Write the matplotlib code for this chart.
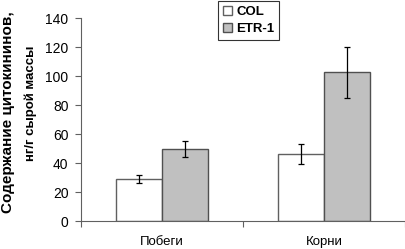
import matplotlib

matplotlib.use("Agg")

import matplotlib.pyplot as plt  # noqa: E402
import numpy as np  # noqa: E402

plt.rcParams["font.family"] = ["Liberation Sans", "DejaVu Sans"]

categories = ["Побеги", "Корни"]
series = ["COL", "ETR-1"]
col_values = [29, 46]
col_errors = [3, 7]
etr_values = [49.5, 102.5]
etr_errors = [5.5, 17.5]
y_ticks = [0, 20, 40, 60, 80, 100, 120, 140]

fig = plt.figure(figsize=(4.05, 2.49), dpi=100)
ax = fig.add_axes([0.2, 0.1124, 0.8, 0.8153])

x = np.arange(len(categories)) + 0.5
w = 0.285
ax.bar(x - w / 2, col_values, w, color="white", edgecolor="#606060", lw=1.0,
       label=series[0], zorder=2)
ax.bar(x + w / 2, etr_values, w, color="#c0c0c0", edgecolor="#505050", lw=1.0,
       label=series[1], zorder=2)
ax.errorbar(x - w / 2, col_values, yerr=col_errors, fmt="none", ecolor="black",
            elinewidth=0.9, capsize=2.5, capthick=0.9, zorder=3)
ax.errorbar(x + w / 2, etr_values, yerr=etr_errors, fmt="none", ecolor="black",
            elinewidth=0.9, capsize=2.5, capthick=0.9, zorder=3)

ax.set_xlim(0, len(categories))
ax.set_ylim(0, 140)
ax.set_yticks(y_ticks)
ax.tick_params(axis="y", labelsize=10, length=4, width=0.8, color="#606060", pad=5)
ax.set_xticks(np.arange(len(categories) + 1))
ax.set_xticklabels([])
ax.tick_params(axis="x", which="major", length=4, width=0.8, color="#606060")
ax.set_xticks(x, minor=True)
ax.set_xticklabels(categories, minor=True, fontsize=9.5)
ax.tick_params(axis="x", which="minor", length=0, pad=11)

for s in ["top", "right"]:
    ax.spines[s].set_visible(False)
for s in ["left", "bottom"]:
    ax.spines[s].set_color("#606060")
    ax.spines[s].set_linewidth(0.8)

fig.text(0.02, 0.548, "Содержание цитокининов,", rotation=90, fontsize=11,
         fontweight="bold", ha="center", va="center")
fig.text(0.076, 0.584, "нг/г сырой массы", rotation=90, fontsize=9.5,
         fontweight="bold", ha="center", va="center")

leg = fig.legend(loc="upper left", bbox_to_anchor=(217 / 405, 1.0),
                 frameon=True, fancybox=False, edgecolor="black", handlelength=0.7,
                 handleheight=0.7, handletextpad=0.3, borderpad=0.35,
                 labelspacing=0.35, borderaxespad=0.1,
                 prop={"weight": "bold", "size": 9.5})
leg.get_frame().set_linewidth(0.8)

fig.savefig("out.png", dpi=100)
